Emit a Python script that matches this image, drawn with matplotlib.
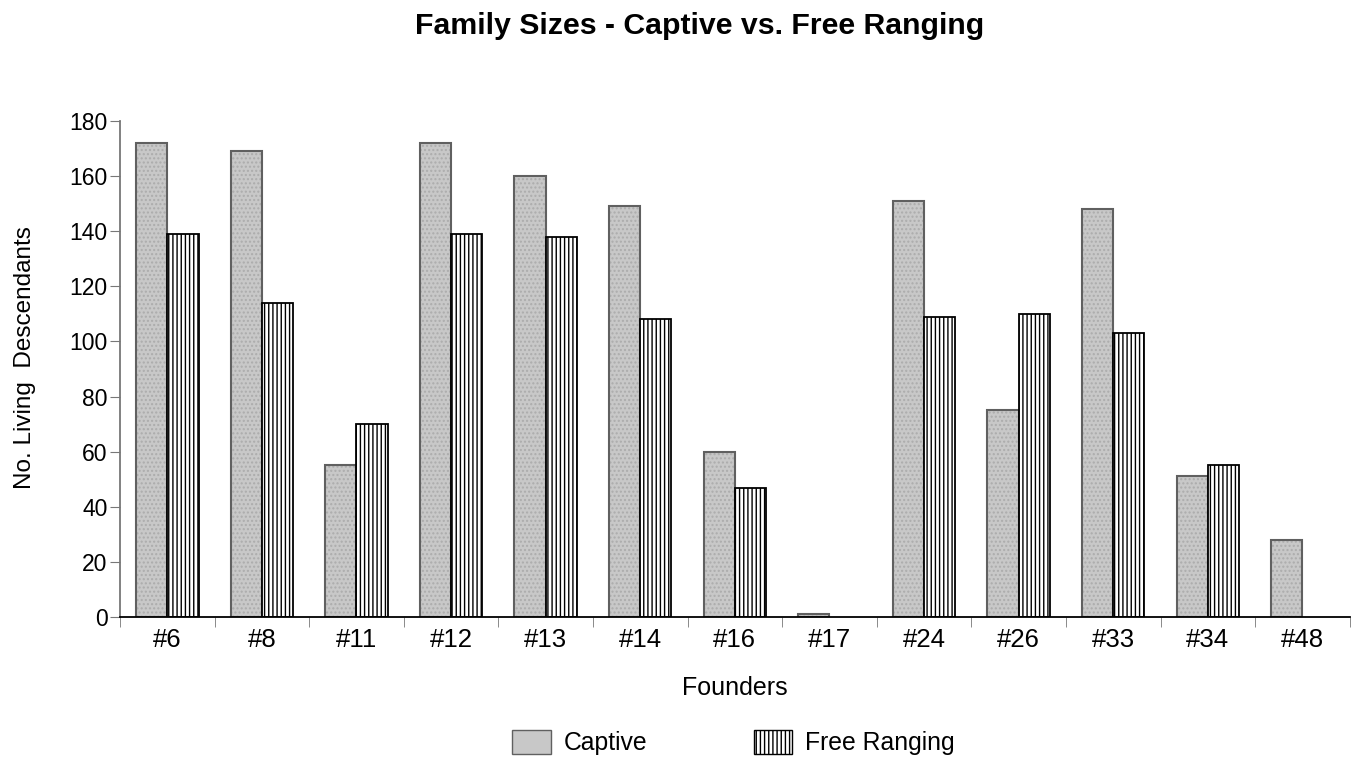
import matplotlib
matplotlib.use("Agg")
import matplotlib.pyplot as plt
import numpy as np
from matplotlib.patches import Patch

plt.rcParams['font.family'] = ['Liberation Sans', 'DejaVu Sans']
plt.rcParams['hatch.linewidth'] = 1.0

founders = ["#6", "#8", "#11", "#12", "#13", "#14", "#16", "#17", "#24", "#26", "#33", "#34", "#48"]
captive = [172, 169, 55, 172, 160, 149, 60, 1, 151, 75, 148, 51, 28]
free_ranging = [139, 114, 70, 139, 138, 108, 47, 0, 109, 110, 103, 55, 0]

cap_face = '#c8c8c8'
cap_hatch = '#acacac'
cap_edge = '#606060'

fig = plt.figure(figsize=(13.62, 7.63), dpi=100)
ax = fig.add_axes([0.0881, 0.1913, 0.9029, 0.6501])

x = np.arange(len(founders))
w = 0.33
# captive: grey texture, then outline on top
ax.bar(x - w / 2, captive, w, color=cap_face, edgecolor=cap_hatch, linewidth=0, hatch='....')
ax.bar(x - w / 2, captive, w, fill=False, edgecolor=cap_edge, linewidth=1.5)
free_bars = ax.bar(x + w / 2, free_ranging, w, color='white', edgecolor='black', linewidth=1.3,
                   hatch='||||')
# no bar drawn for zero values
for b, v in zip(free_bars, free_ranging):
    if v == 0:
        b.set_visible(False)

ax.set_xlim(-0.5, len(founders) - 0.5)
ax.set_ylim(0, 180)
ax.set_yticks(range(0, 181, 20))
ax.set_xticks(x)
ax.set_xticklabels(founders, fontsize=18.5)
ax.set_xticks(np.arange(-0.5, len(founders)), minor=True)
ax.tick_params(axis='x', which='major', length=0, pad=8)
ax.tick_params(axis='x', which='minor', length=7, direction='out', color='#777777')
ax.tick_params(axis='y', labelsize=16.5, length=7, color='#777777', pad=2)
for s in ['top', 'right']:
    ax.spines[s].set_visible(False)
ax.spines['left'].set_color('#777777')
ax.spines['left'].set_linewidth(1.3)
ax.spines['bottom'].set_color('black')
ax.spines['bottom'].set_linewidth(1.3)

ax.set_xlabel("Founders", fontsize=18)
ax.xaxis.set_label_coords(0.5, -0.119)
ax.set_ylabel("No. Living  Descendants", fontsize=17.5)
ax.yaxis.set_label_coords(-0.0685, 0.524)
fig.text(0.514, 1 - 34 / 763, "Family Sizes - Captive vs. Free Ranging", fontsize=21.8,
         fontweight='bold', ha='center', va='baseline')

handles = [Patch(facecolor=cap_face, edgecolor=cap_edge, label='Captive'),
           Patch(facecolor='white', edgecolor='black', hatch='||||', label='Free Ranging')]
fig.legend(handles=handles, loc='center', bbox_to_anchor=(0.5386, 1 - 742.5 / 763), ncol=2,
           frameon=False, fontsize=17.8, columnspacing=4.3, handlelength=1.55, handleheight=1.1,
           handletextpad=0.53, borderpad=0, borderaxespad=0)

fig.savefig("out.png", dpi=100)
